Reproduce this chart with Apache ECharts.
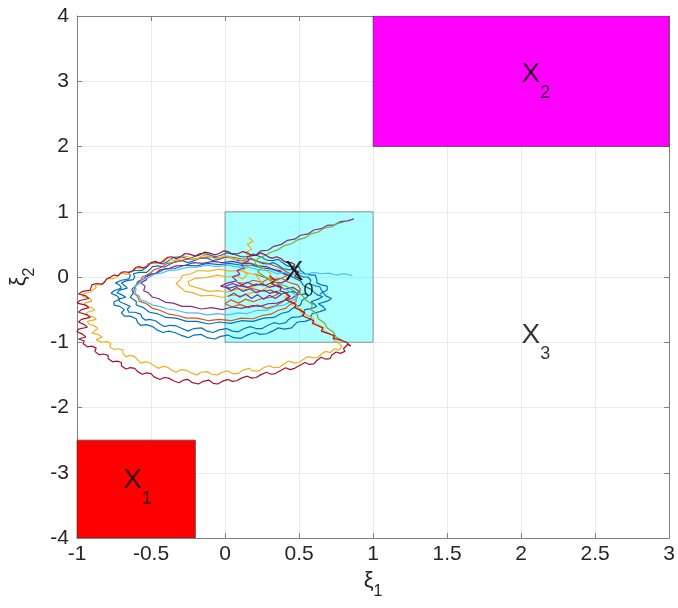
<!DOCTYPE html>
<html>
<head>
<meta charset="utf-8">
<script src="https://cdn.jsdelivr.net/npm/echarts@6/dist/echarts.min.js"></script>
<style>html,body{margin:0;padding:0;background:#fff}#c{width:678px;height:608px}</style>
</head>
<body>
<div id="c"></div>
<script>
// axis ticks
const xTicks = [-1, -0.5, 0, 0.5, 1, 1.5, 2, 2.5, 3];
const yTicks = [-4, -3, -2, -1, 0, 1, 2, 3, 4];

// set rectangles [x0, y0, x1, y1]
const rectX0 = [0, -1, 1, 1];
const rectX1 = [-1, -4, -0.2, -2.5];
const rectX2 = [1, 2, 3, 4];

// region labels
const regionNames = ['0', '1', '2', '3'];
const regionPos = [[0.5, -0.03], [-0.59, -3.22], [2.1, 3.0], [2.1, -1.0]];

// trajectories
const trajBlue = [[0.30,-0.20],[0.38,-0.26],[0.45,-0.22],[0.52,-0.27],
[0.55,-0.25],[0.56,-0.30],[0.52,-0.36],[0.51,-0.43],[0.47,-0.46],[0.43,-0.53],[0.38,-0.56],[0.33,-0.62],[0.26,-0.63],[0.19,-0.68],[0.11,-0.67],[0.04,-0.71],[-0.04,-0.69],[-0.11,-0.72],[-0.19,-0.68],[-0.26,-0.68],[-0.33,-0.63],[-0.40,-0.62],[-0.46,-0.56],[-0.51,-0.54],[-0.55,-0.47],[-0.60,-0.43],[-0.60,-0.37],[-0.64,-0.31],[-0.62,-0.25],[-0.63,-0.19],[-0.60,-0.13],[-0.59,-0.07],[-0.55,-0.03],[-0.52,0.04],[-0.46,0.06],[-0.41,0.12],[-0.34,0.13],[-0.27,0.18],[-0.19,0.17],[-0.12,0.21],[-0.04,0.19],[0.03,0.21],[0.11,0.18],[0.18,0.18],[0.25,0.14],[0.32,0.12],[0.38,0.07],[0.43,0.04],[0.47,-0.02],[0.51,-0.06],[0.53,-0.13],[0.58,-0.19],
[0.62,-0.27],[0.66,-0.30],[0.63,-0.34],[0.58,-0.38],[0.60,-0.41],[0.62,-0.45],[0.59,-0.48],[0.54,-0.50],[0.53,-0.54],[0.53,-0.59],[0.50,-0.61],[0.45,-0.62],[0.43,-0.65],[0.41,-0.70],[0.37,-0.72],[0.33,-0.70],[0.29,-0.74],[0.25,-0.79],[0.21,-0.79],[0.17,-0.76],[0.13,-0.79],[0.09,-0.84],[0.05,-0.83],[0.01,-0.79],[-0.04,-0.81],[-0.08,-0.85],[-0.12,-0.83],[-0.16,-0.78],[-0.21,-0.79],[-0.25,-0.83],[-0.29,-0.79],[-0.33,-0.75],[-0.37,-0.74],[-0.41,-0.76],[-0.44,-0.72],[-0.47,-0.67],[-0.51,-0.65],[-0.54,-0.66],[-0.56,-0.62],[-0.57,-0.57],[-0.61,-0.54],[-0.65,-0.54],[-0.66,-0.49],[-0.64,-0.45],[-0.68,-0.41],[-0.71,-0.38],[-0.72,-0.34],[-0.67,-0.31],[-0.70,-0.27],[-0.73,-0.24],[-0.71,-0.20],[-0.66,-0.17],[-0.68,-0.13],[-0.70,-0.09],[-0.67,-0.06],[-0.62,-0.04],[-0.61,0.00],[-0.62,0.05],[-0.58,0.07],[-0.53,0.07],[-0.51,0.11],[-0.49,0.16],[-0.45,0.17],[-0.41,0.15],[-0.37,0.20],[-0.33,0.24],[-0.29,0.25],[-0.25,0.22],[-0.21,0.25],[-0.17,0.29],[-0.12,0.29],[-0.08,0.25],[-0.04,0.27],[0.01,0.31],[0.05,0.29],[0.09,0.25],[0.13,0.25],[0.17,0.29],[0.21,0.25],[0.25,0.21],[0.29,0.20],[0.33,0.22],[0.36,0.18],[0.39,0.13],[0.43,0.11],[0.46,0.12],[0.48,0.08],[0.50,0.03],[0.53,0.00],[0.56,0.00],[0.58,-0.05],[0.57,-0.10],[0.60,-0.13],[0.64,-0.15],[0.65,-0.20],
[0.68,-0.29],[0.72,-0.33],[0.69,-0.37],[0.63,-0.41],[0.66,-0.45],[0.68,-0.50],[0.64,-0.53],[0.59,-0.56],[0.58,-0.60],[0.58,-0.65],[0.54,-0.68],[0.49,-0.69],[0.47,-0.73],[0.45,-0.78],[0.40,-0.80],[0.36,-0.78],[0.32,-0.83],[0.28,-0.87],[0.24,-0.88],[0.20,-0.85],[0.15,-0.89],[0.11,-0.94],[0.06,-0.93],[0.02,-0.89],[-0.03,-0.91],[-0.07,-0.95],[-0.12,-0.93],[-0.16,-0.88],[-0.21,-0.89],[-0.25,-0.93],[-0.30,-0.89],[-0.34,-0.85],[-0.38,-0.83],[-0.42,-0.85],[-0.46,-0.81],[-0.49,-0.76],[-0.53,-0.73],[-0.57,-0.74],[-0.59,-0.70],[-0.60,-0.64],[-0.64,-0.60],[-0.68,-0.60],[-0.70,-0.55],[-0.68,-0.50],[-0.71,-0.45],[-0.75,-0.43],[-0.75,-0.38],[-0.71,-0.34],[-0.73,-0.29],[-0.77,-0.25],[-0.75,-0.21],[-0.70,-0.17],[-0.71,-0.13],[-0.74,-0.09],[-0.70,-0.05],[-0.65,-0.03],[-0.64,0.02],[-0.65,0.07],[-0.61,0.10],[-0.56,0.10],[-0.53,0.15],[-0.52,0.20],[-0.47,0.22],[-0.42,0.20],[-0.38,0.25],[-0.35,0.30],[-0.30,0.31],[-0.25,0.28],[-0.21,0.31],[-0.17,0.36],[-0.12,0.35],[-0.07,0.31],[-0.03,0.33],[0.01,0.37],[0.06,0.35],[0.11,0.31],[0.15,0.31],[0.19,0.35],[0.24,0.31],[0.28,0.26],[0.32,0.25],[0.36,0.27],[0.39,0.22],[0.42,0.17],[0.47,0.15],[0.50,0.16],[0.51,0.10],[0.54,0.05],[0.58,0.03],[0.61,0.03],[0.62,-0.04],[0.62,-0.09],[0.65,-0.12],[0.69,-0.14],[0.69,-0.20],[0.64,-0.26]];

const trajOrange = [[0.20,0.05],[0.26,0.00],[0.32,-0.04],[0.38,-0.02],[0.43,-0.08],[0.49,-0.12],[0.51,-0.19],[0.50,-0.26],[0.48,-0.31],[0.48,-0.38],[0.44,-0.42],[0.41,-0.48],[0.36,-0.51],[0.31,-0.57],[0.25,-0.59],[0.19,-0.64],[0.11,-0.63],[0.04,-0.67],[-0.04,-0.65],[-0.11,-0.67],[-0.19,-0.63],[-0.26,-0.63],[-0.32,-0.59],[-0.38,-0.57],[-0.44,-0.51],[-0.49,-0.48],[-0.53,-0.41],[-0.58,-0.37],[-0.59,-0.30],[-0.62,-0.24],[-0.61,-0.18],[-0.60,-0.12],[-0.57,-0.06],[-0.56,0.00],[-0.51,0.05],[-0.48,0.11],[-0.43,0.15],[-0.39,0.21],[-0.33,0.23],[-0.27,0.27],[-0.19,0.28],[-0.12,0.31],[-0.04,0.29],[0.03,0.31],[0.11,0.28],[0.18,0.27],[0.24,0.23],[0.30,0.20],[0.36,0.15],[0.40,0.10],[0.44,0.05],[0.40,0.00],[0.35,-0.05],[0.30,-0.02],[0.25,-0.08],[0.19,-0.05],[0.14,-0.10],[0.08,-0.08],[0.13,-0.14],[0.19,-0.18],[0.25,-0.22],[0.31,-0.20],[0.36,-0.26],[0.31,-0.31],[0.25,-0.33],[0.19,-0.38],[0.14,-0.34],[0.09,-0.40],[0.04,-0.35],[0.00,-0.41],[0.05,-0.46],[0.10,-0.42],[0.16,-0.47],[0.22,-0.43],[0.28,-0.48],[0.34,-0.44],[0.39,-0.38],[0.43,-0.30],[0.40,-0.24]];

const trajYellow = [[0.40,-0.30],[0.45,-0.36],[0.44,-0.40],[0.47,-0.44],[0.52,-0.50],[0.51,-0.54],[0.55,-0.58],[0.60,-0.64],[0.59,-0.68],[0.62,-0.72],[0.67,-0.78],[0.66,-0.82],[0.70,-0.86],[0.74,-0.92],[0.73,-0.96],[0.76,-1.00],[0.79,-1.06],
[0.77,-1.12],[0.74,-1.10],[0.71,-1.16],[0.68,-1.14],[0.65,-1.18],[0.63,-1.23],[0.60,-1.24],[0.56,-1.22],[0.53,-1.26],[0.50,-1.31],[0.47,-1.32],[0.43,-1.29],[0.40,-1.33],[0.37,-1.38],[0.33,-1.39],[0.30,-1.36],[0.26,-1.39],[0.23,-1.44],[0.19,-1.44],[0.16,-1.40],[0.12,-1.43],[0.09,-1.48],[0.05,-1.48],[0.02,-1.44],[-0.02,-1.46],[-0.05,-1.50],[-0.09,-1.49],[-0.12,-1.45],[-0.16,-1.46],[-0.19,-1.50],[-0.23,-1.47],[-0.26,-1.43],[-0.30,-1.42],[-0.33,-1.46],[-0.36,-1.43],[-0.39,-1.38],[-0.42,-1.37],[-0.45,-1.40],[-0.48,-1.36],[-0.51,-1.31],[-0.54,-1.30],[-0.57,-1.32],[-0.59,-1.27],[-0.61,-1.22],[-0.64,-1.20],[-0.67,-1.22],[-0.69,-1.17],[-0.69,-1.12],[-0.72,-1.10],[-0.75,-1.11],[-0.78,-1.07],[-0.77,-1.02],[-0.80,-0.99],[-0.84,-1.00],[-0.87,-0.96],[-0.83,-0.92],[-0.86,-0.88],[-0.90,-0.86],[-0.91,-0.83],[-0.86,-0.79],[-0.88,-0.75],[-0.92,-0.72],[-0.93,-0.68],[-0.87,-0.65],[-0.89,-0.61],[-0.94,-0.58],[-0.93,-0.54],[-0.88,-0.51],[-0.90,-0.47],[-0.95,-0.44],[-0.95,-0.40],[-0.90,-0.37],[-0.91,-0.33],[-0.96,-0.30],[-0.96,-0.26],[-0.91,-0.23],[-0.90,-0.20],[-0.87,-0.16],[-0.88,-0.12],[-0.84,-0.12],[-0.82,-0.09],[-0.81,-0.05],[-0.79,-0.02],[-0.76,-0.03],[-0.73,0.00],[-0.71,0.05],[-0.69,0.06],[-0.66,0.04],[-0.63,0.08],[-0.61,0.13],[-0.59,0.14],[-0.56,0.12],[-0.53,0.16],[-0.51,0.21],[-0.49,0.22],[-0.46,0.20],[-0.43,0.23],[-0.41,0.28],[-0.38,0.28],[-0.35,0.25],[-0.31,0.27],[-0.28,0.32],[-0.25,0.31],[-0.21,0.27],[-0.18,0.29],[-0.15,0.33],[-0.11,0.32],[-0.07,0.28],[-0.04,0.29],[0.00,0.33],[0.03,0.31],[0.06,0.27],[0.09,0.27],
[0.15,0.22],[0.22,0.18],[0.27,0.11],[0.31,0.05],[0.30,-0.03],[0.33,-0.10],[0.28,-0.16],[0.25,-0.22],[0.18,-0.24],[0.12,-0.29],[0.05,-0.28],[-0.02,-0.31],[-0.09,-0.28],[-0.16,-0.29],[-0.22,-0.24],[-0.27,-0.22],[-0.30,-0.16],[-0.33,-0.10],[-0.30,-0.04],[-0.29,0.02],[-0.23,0.05],[-0.18,0.10],[-0.11,0.09],[-0.04,0.12],[0.03,0.09],[0.10,0.10],[0.16,0.06],[0.21,0.03],[0.23,-0.04],[0.26,-0.10],[0.20,-0.14],[0.15,-0.19],[0.08,-0.19],[0.02,-0.23],[-0.05,-0.21],[-0.11,-0.22],[-0.18,-0.17],[-0.24,-0.13],[-0.25,-0.07],[-0.20,-0.02],[-0.13,-0.01],[-0.05,0.03],[0.02,0.00],[0.08,0.02],[0.12,-0.03],[0.15,0.04],[0.12,0.10],[0.16,0.17],[0.13,0.24],[0.17,0.30],[0.14,0.37],[0.18,0.43],[0.15,0.50],[0.19,0.55],[0.16,0.60]];

const trajPurple = [[0.02,-0.30],[0.06,-0.25],[0.10,-0.31],[0.14,-0.26],[0.18,-0.33],[0.22,-0.27],[0.26,-0.34],[0.30,-0.28],[0.34,-0.33],[0.38,-0.27],[0.35,-0.22],[0.30,-0.25],[0.26,-0.20],[0.21,-0.24],[0.17,-0.18],[0.12,-0.22],[0.08,-0.16],[0.04,-0.21],[0.00,-0.15],[0.05,-0.10],[0.10,-0.14],[0.15,-0.08],[0.20,-0.13],
[0.25,-0.10],[0.30,-0.16],[0.36,-0.12],[0.40,-0.19],[0.46,-0.16],[0.50,-0.22],[0.48,-0.28],[0.45,-0.33],[0.40,-0.36],[0.35,-0.40],[0.29,-0.41],[0.24,-0.45],[0.18,-0.44],[0.11,-0.48],[0.05,-0.46],[-0.02,-0.50],[-0.09,-0.47],[-0.16,-0.49],[-0.23,-0.45],[-0.29,-0.45],[-0.35,-0.40],[-0.40,-0.39],[-0.45,-0.33],[-0.49,-0.31],[-0.52,-0.24],[-0.55,-0.21],[-0.54,-0.14],[-0.57,-0.09],[-0.53,-0.04],[-0.52,0.02],[-0.47,0.05],[-0.44,0.11],[-0.38,0.13],[-0.33,0.17],[-0.27,0.18],[-0.21,0.22],[-0.15,0.21],[-0.08,0.24],[-0.02,0.22],[0.05,0.24],[0.11,0.21],[0.17,0.21],[0.22,0.17],[0.28,0.16],[0.33,0.11],[0.37,0.10],[0.40,0.04],[0.44,0.02],[0.42,-0.05],[0.38,-0.09],[0.32,-0.08],[0.27,-0.13],[0.21,-0.11],[0.15,-0.16],[0.09,-0.13],[0.03,-0.17],[-0.03,-0.14],[0.02,-0.09],[0.08,-0.06],[0.05,0.00],[0.10,0.04],[0.08,0.10],[0.13,0.14],[0.11,0.20],[0.16,0.25],[0.15,0.31],[0.21,0.34],[0.24,0.40],[0.29,0.41],[0.33,0.47],[0.38,0.50],[0.42,0.56],[0.47,0.58],[0.51,0.64],[0.56,0.66],[0.60,0.72],[0.65,0.74],[0.69,0.79],[0.74,0.80],[0.78,0.85],[0.83,0.86],[0.87,0.89]];

const trajGreen = [[0.79,-0.97],[0.75,-0.92],[0.73,-0.84],[0.69,-0.78],[0.67,-0.70],[0.63,-0.64],[0.62,-0.56],[0.58,-0.50],[0.59,-0.42],[0.55,-0.36],[0.52,-0.28],[0.47,-0.22],[0.42,-0.15],[0.36,-0.10],[0.30,-0.05],[0.26,0.02],[0.22,0.08],[0.25,0.14],[0.20,0.20],[0.22,0.28],[0.27,0.33],[0.31,0.38],[0.36,0.42],[0.40,0.48],[0.45,0.51],[0.49,0.57],[0.54,0.60],[0.58,0.66],[0.63,0.69],[0.67,0.75],[0.72,0.77],[0.76,0.82],[0.80,0.84]];

const trajLightBlue = [[0.35,-0.15],[0.42,-0.20],[0.47,-0.26],[0.49,-0.32],[0.44,-0.38],[0.40,-0.43],[0.34,-0.45],[0.28,-0.51],[0.22,-0.51],[0.15,-0.56],[0.09,-0.55],[0.02,-0.58],[-0.05,-0.56],[-0.12,-0.58],[-0.19,-0.55],[-0.26,-0.55],[-0.33,-0.51],[-0.39,-0.49],[-0.44,-0.45],[-0.49,-0.43],[-0.53,-0.38],[-0.57,-0.35],[-0.58,-0.29],[-0.61,-0.25],[-0.60,-0.19],[-0.61,-0.14],[-0.57,-0.09],[-0.56,-0.04],[-0.52,-0.01],[-0.48,0.04],[-0.43,0.06],[-0.38,0.10],[-0.32,0.11],[-0.25,0.15],[-0.19,0.15],[-0.12,0.18],[-0.05,0.16],[0.02,0.18],[0.09,0.15],[0.16,0.15],[0.23,0.11],[0.30,0.10],[0.35,0.05],[0.40,0.07],[0.45,0.03],[0.50,0.06],[0.55,0.04],[0.60,0.07],[0.65,0.05],[0.70,0.06],[0.75,0.03],[0.80,0.05],[0.86,0.02]];

const trajRed = [[0.30,0.02],[0.34,-0.05],[0.31,-0.09],[0.33,-0.12],[0.38,-0.16],[0.37,-0.21],[0.41,-0.24],[0.44,-0.30],[0.41,-0.34],[0.43,-0.37],[0.48,-0.42],[0.47,-0.47],[0.50,-0.50],[0.54,-0.55],[0.52,-0.59],[0.55,-0.62],[0.60,-0.67],[0.59,-0.71],[0.62,-0.74],[0.66,-0.78],[0.65,-0.83],[0.69,-0.86],[0.74,-0.90],[0.73,-0.94],[0.77,-0.96],[0.82,-1.00],
[0.85,-1.06],[0.83,-1.03],[0.80,-1.10],[0.81,-1.14],[0.78,-1.17],[0.75,-1.15],[0.72,-1.20],[0.71,-1.25],[0.68,-1.26],[0.65,-1.23],[0.62,-1.28],[0.60,-1.33],[0.57,-1.34],[0.54,-1.31],[0.50,-1.36],[0.47,-1.40],[0.44,-1.42],[0.41,-1.39],[0.37,-1.44],[0.34,-1.48],[0.31,-1.49],[0.28,-1.46],[0.24,-1.50],[0.21,-1.54],[0.18,-1.55],[0.15,-1.52],[0.11,-1.55],[0.08,-1.59],[0.05,-1.60],[0.02,-1.57],[-0.02,-1.60],[-0.05,-1.64],[-0.08,-1.63],[-0.11,-1.58],[-0.15,-1.60],[-0.18,-1.64],[-0.22,-1.62],[-0.25,-1.57],[-0.28,-1.58],[-0.31,-1.62],[-0.35,-1.59],[-0.38,-1.55],[-0.41,-1.54],[-0.44,-1.57],[-0.48,-1.53],[-0.50,-1.48],[-0.53,-1.47],[-0.56,-1.49],[-0.59,-1.45],[-0.61,-1.40],[-0.64,-1.39],[-0.67,-1.41],[-0.70,-1.36],[-0.70,-1.31],[-0.73,-1.29],[-0.76,-1.30],[-0.79,-1.25],[-0.79,-1.20],[-0.82,-1.18],[-0.85,-1.19],[-0.88,-1.14],[-0.87,-1.09],[-0.90,-1.06],[-0.93,-1.07],[-0.96,-1.02],[-0.95,-0.98],
[-0.99,-0.95],[-0.94,-0.92],[-0.96,-0.88],[-1.00,-0.84],[-0.99,-0.80],[-0.93,-0.77],[-0.95,-0.73],[-0.99,-0.69],[-0.97,-0.65],[-0.91,-0.62],[-0.93,-0.58],[-0.99,-0.54],[-0.97,-0.50],[-0.92,-0.47],[-0.94,-0.43],[-1.00,-0.40],[-0.98,-0.36],[-0.92,-0.33],[-0.94,-0.29],[-0.99,-0.26],[-0.96,-0.22],[-0.91,-0.20],[-0.90,-0.17],[-0.90,-0.12],[-0.87,-0.10],[-0.83,-0.11],[-0.81,-0.07],[-0.80,-0.03],
[-0.78,-0.01],[-0.75,0.03],[-0.72,0.02],[-0.70,0.07],[-0.68,0.08],[-0.65,0.07],[-0.62,0.10],[-0.60,0.15],[-0.58,0.16],[-0.55,0.14],[-0.52,0.17],[-0.50,0.22],[-0.47,0.24],[-0.44,0.21],[-0.41,0.25],[-0.39,0.30],[-0.36,0.31],[-0.33,0.28],[-0.30,0.31],[-0.27,0.36],[-0.24,0.35],[-0.20,0.32],[-0.17,0.34],[-0.14,0.38],[-0.11,0.37],[-0.07,0.34],[-0.04,0.36],[-0.01,0.40],[0.02,0.39],[0.05,0.35],[0.09,0.36],[0.12,0.39],[0.15,0.37],[0.18,0.33],[0.21,0.33],[0.24,0.37],[0.27,0.34],[0.30,0.30],[0.32,0.29],[0.35,0.31],[0.38,0.28],[0.40,0.24],[0.42,0.22],[0.45,0.22],[0.47,0.19],[0.45,0.12],[0.50,0.08],[0.47,0.01],[0.52,-0.04]];

const trajectories = [
  {data: trajBlue, color: '#0072BD'},
  {data: trajOrange, color: '#D95319'},
  {data: trajYellow, color: '#EDB120'},
  {data: trajPurple, color: '#7E2F8E'},
  {data: trajGreen, color: '#77AC30'},
  {data: trajLightBlue, color: '#4DBEEE'},
  {data: trajRed, color: '#A2142F'}
];

const FONT = 'Liberation Sans, Arial, Helvetica, sans-serif';
const AX = '#808080';
const TXT = '#262626';

function rectItem(r, fill, stroke) {
  return {value: r, itemStyle: {color: fill, borderColor: stroke}};
}

const chart = echarts.init(document.getElementById('c'), null, {renderer: 'canvas'});

const lineSeries = trajectories.map(t => ({
  type: 'line', data: t.data, showSymbol: false, symbol: 'none',
  lineStyle: {color: t.color, width: 1.2}, itemStyle: {color: t.color},
  z: 3, silent: true, animation: false
}));

const nameRich = {
  a: {fontSize: 22, fontFamily: FONT, color: TXT, lineHeight: 24, padding: [0, 0, 8, 0]},
  b: {fontSize: 16, fontFamily: FONT, color: TXT, lineHeight: 18, padding: [14, 0, 0, 0]}
};

const option = {
  animation: false,
  grid: {left: 75, right: 6, top: 16, bottom: 70, containLabel: false},
  xAxis: [{
    type: 'value', min: -1, max: 3, interval: 0.5, position: 'bottom',
    axisLine: {show: true, onZero: false, lineStyle: {color: AX, width: 1}},
    axisTick: {show: true, inside: true, length: 5, lineStyle: {color: AX}},
    axisLabel: {fontSize: 21, color: TXT, fontFamily: FONT, margin: 6},
    splitLine: {show: true, lineStyle: {color: '#ebebeb', width: 1}},
    name: '{a|ξ}{b|1}', nameLocation: 'middle', nameGap: 31,
    nameTextStyle: {rich: nameRich}
  }, {
    type: 'value', min: -1, max: 3, interval: 0.5, position: 'top',
    axisLine: {show: true, onZero: false, lineStyle: {color: AX, width: 1}},
    axisTick: {show: true, inside: true, length: 5, lineStyle: {color: AX}},
    axisLabel: {show: false}, splitLine: {show: false}
  }],
  yAxis: [{
    type: 'value', min: -4, max: 4, interval: 1, position: 'left',
    axisLine: {show: true, onZero: false, lineStyle: {color: AX, width: 1}},
    axisTick: {show: true, inside: true, length: 5, lineStyle: {color: AX}},
    axisLabel: {fontSize: 21, color: TXT, fontFamily: FONT, margin: 8},
    splitLine: {show: true, lineStyle: {color: '#ebebeb', width: 1}},
    name: '{a|ξ}{b|2}', nameLocation: 'middle', nameGap: 42,
    nameTextStyle: {rich: nameRich}
  }, {
    type: 'value', min: -4, max: 4, interval: 1, position: 'right',
    axisLine: {show: true, onZero: false, lineStyle: {color: AX, width: 1}},
    axisTick: {show: true, inside: true, length: 5, lineStyle: {color: AX}},
    axisLabel: {show: false}, splitLine: {show: false}
  }],
  series: [
    {
      type: 'custom', z: 1, silent: true, clip: true,
      encode: {x: [0, 2], y: [1, 3]},
      data: [
        rectItem(rectX1, '#FF0000', '#444444'),
        rectItem(rectX2, '#FF00FF', '#444444'),
        rectItem(rectX0, 'rgba(0,255,255,0.33)', '#6e6e6e')
      ],
      renderItem: function (params, api) {
        const p0 = api.coord([api.value(0), api.value(1)]);
        const p1 = api.coord([api.value(2), api.value(3)]);
        const st = api.style();
        return {
          type: 'rect',
          shape: {x: Math.min(p0[0], p1[0]), y: Math.min(p0[1], p1[1]),
                  width: Math.abs(p1[0] - p0[0]), height: Math.abs(p1[1] - p0[1])},
          style: {fill: st.fill, stroke: st.stroke, lineWidth: 0.7}
        };
      }
    },
    ...lineSeries,
    {
      type: 'scatter', z: 10, silent: true, symbolSize: 1,
      itemStyle: {color: 'rgba(0,0,0,0)'},
      data: regionPos.map((p, i) => ({
        value: p,
        label: {formatter: '{x|X}{s|' + regionNames[i] + '}'}
      })),
      label: {
        show: true, position: 'inside',
        rich: {
          x: {fontSize: 28, fontFamily: FONT, color: '#000', lineHeight: 30, padding: [0, 0, 14, 0]},
          s: {fontSize: 18, fontFamily: FONT, color: '#000', lineHeight: 20, padding: [24, 0, 0, 0]}
        }
      }
    }
  ]
};
chart.setOption(option);
</script>
</body>
</html>
